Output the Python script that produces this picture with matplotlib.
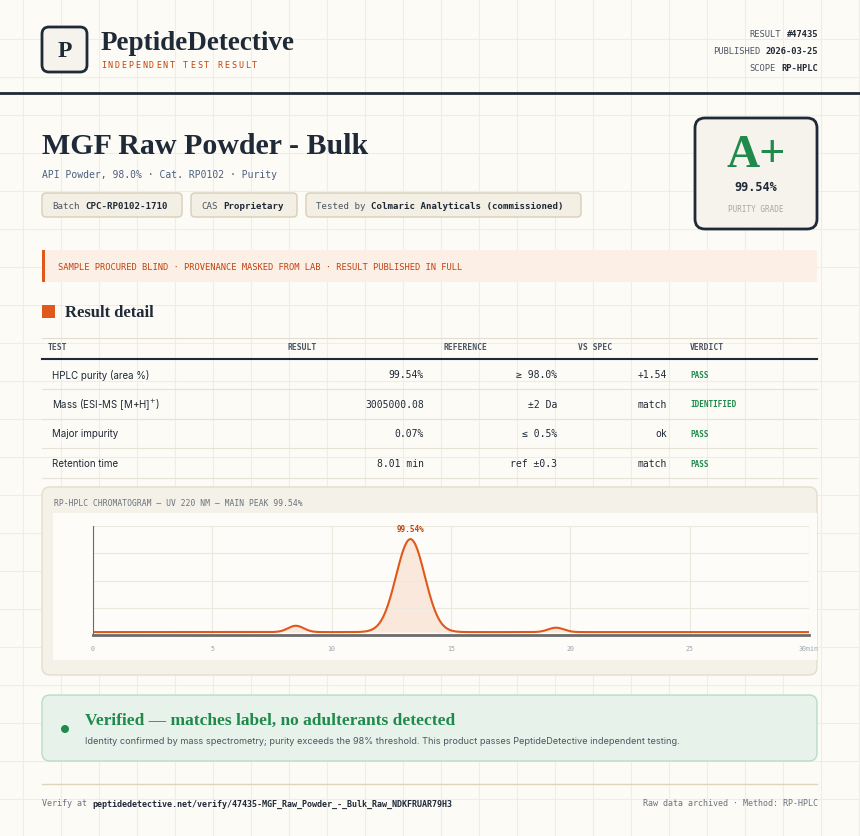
import matplotlib.pyplot as plt
from matplotlib.patches import FancyBboxPatch, Rectangle, Circle
import numpy as np

W, H = 860, 837
SERIF = "Liberation Serif"
MONO = "DejaVu Sans Mono"
SANS = "Inter"
INK = "#1f2937"
ORANGE = "#e0591a"
GREEN = "#1f8a4c"

# ---- data ----
meta_labels = ["RESULT", "PUBLISHED", "SCOPE"]
meta_values = ["#47435", "2026-03-25", "RP-HPLC"]
chip_labels = ["Batch", "CAS", "Tested by"]
chip_values = ["CPC-RP0102-1710", "Proprietary", "Colmaric Analyticals (commissioned)"]
columns = ["TEST", "RESULT", "REFERENCE", "VS SPEC", "VERDICT"]
tests = ["HPLC purity (area %)", "Mass (ESI-MS [M+H]$^{+}$)", "Major impurity", "Retention time"]
results = ["99.54%", "3005000.08", "0.07%", "8.01 min"]
references = ["≥ 98.0%", "±2 Da", "≤ 0.5%", "ref ±0.3"]
vs_spec = ["+1.54", "match", "ok", "match"]
verdicts = ["PASS", "IDENTIFIED", "PASS", "PASS"]

# chromatogram peak table
peak_rt = [8.5, 13.3, 19.4]
peak_height = [0.065, 0.955, 0.045]
peak_sigma = [0.33, 0.6, 0.33]
baseline = 0.03
x_ticks = [0, 5, 10, 15, 20, 25, 30]

fig = plt.figure(figsize=(W / 100, H / 100), dpi=100)
fig.patch.set_facecolor("#fcfbf6")
ax = fig.add_axes([0, 0, 1, 1])
ax.set_xlim(0, W)
ax.set_ylim(H, 0)
ax.axis("off")

# background grid
for gx in range(23, W, 38):
    ax.axvline(gx, color="#efede5", lw=0.8, zorder=0)
for gy in range(40, H, 38):
    ax.axhline(gy, color="#efede5", lw=0.8, zorder=0)


def rbox(x0, y0, x1, y1, fc, ec, lw=1, r=6, z=1):
    ax.add_patch(FancyBboxPatch((x0, y0), x1 - x0, y1 - y0,
                                boxstyle=f"round,pad=0,rounding_size={r}",
                                fc=fc, ec=ec, lw=lw, zorder=z))


def cw(size):
    return size * 100 / 72 * 0.602


# header
rbox(42, 28, 87, 73, "#f5f3ec", INK, lw=2, r=7, z=2)
ax.text(64.5, 51, "P", family=SERIF, weight="bold", size=17, color=INK,
        ha="center", va="center", zorder=3)
ax.text(101, 43, "PeptideDetective", family=SERIF, weight="bold", size=19.5,
        color=INK, va="center")
for k, ch in enumerate("INDEPENDENT TEST RESULT"):
    ax.text(101 + k * 6.85, 65, ch, family=MONO, size=6, color="#c2410c",
            va="center")
for i, (lab, val) in enumerate(zip(meta_labels, meta_values)):
    y = 34 + i * 17
    ax.text(818, y, val, family=MONO, size=6.3, weight="bold", color=INK,
            ha="right", va="center")
    ax.text(818 - (len(val) + 1) * cw(6.3), y, lab, family=MONO, size=6.3,
            color="#4b5563", ha="right", va="center")
ax.plot([0, W], [94, 94], color=INK, lw=2)

# title block
ax.text(42, 146, "MGF Raw Powder - Bulk", family=SERIF, weight="bold", size=21.5,
        color=INK, va="center")
ax.text(42, 175, "API Powder, 98.0% · Cat. RP0102 · Purity", family=MONO,
        size=7, color="#4b5f80", va="center")
chip_x = [(42, 182), (191, 297), (306, 581)]
for (x0, x1), lab, val in zip(chip_x, chip_labels, chip_values):
    rbox(x0, 194, x1, 218, "#f3efe4", "#d8cfb8", lw=1, r=4, z=2)
    ax.text(x0 + 10, 206, lab, family=MONO, size=6.6, color="#4b5563",
            va="center", zorder=3)
    ax.text(x0 + 10 + (len(lab) + 1) * cw(6.6), 206, val, family=MONO, size=6.6,
            weight="bold", color=INK, va="center", zorder=3)

# grade box
rbox(695, 119, 817, 230, "#f5f3ec", INK, lw=2, r=10, z=2)
ax.text(756, 156, "A+", family=SERIF, weight="bold", size=33, color=GREEN,
        ha="center", va="center", zorder=3)
ax.text(756, 187, "99.54%", family=MONO, weight="bold", size=8.5, color=INK,
        ha="center", va="center", zorder=3)
ax.text(756, 209, "PURITY GRADE", family=MONO, size=5.5, color="#a8a8a0",
        ha="center", va="center", zorder=3)

# banner
ax.add_patch(Rectangle((42, 251), 775, 32, fc="#fcefe6", ec="none", zorder=2))
ax.add_patch(Rectangle((42, 251), 3, 32, fc=ORANGE, ec="none", zorder=3))
ax.text(58, 267, "SAMPLE PROCURED BLIND · PROVENANCE MASKED FROM LAB · RESULT PUBLISHED IN FULL",
        family=MONO, size=6.3, color="#c2410c", va="center", zorder=3)

# result detail table
ax.add_patch(Rectangle((42, 306), 13, 13, fc=ORANGE, ec="none", zorder=2))
ax.text(65, 313, "Result detail", family=SERIF, weight="bold", size=12,
        color=INK, va="center")
ax.plot([42, 817], [339, 339], color="#e2ddd0", lw=0.8)
col_x = [48, 288, 443, 578, 690]
for cx, name in zip(col_x, columns):
    ax.text(cx, 347, name, family=MONO, weight="bold", size=5.8,
            color="#4b5563", va="center")
ax.plot([42, 817], [360, 360], color=INK, lw=1.5)
for i in range(len(tests)):
    y = 375 + i * 29.7
    ax.text(52, y, tests[i], family=SANS, size=7, color=INK, va="center")
    ax.text(424, y, results[i], family=MONO, size=7, color=INK, ha="right", va="center")
    ax.text(557, y, references[i], family=MONO, size=7, color=INK, ha="right", va="center")
    ax.text(667, y, vs_spec[i], family=MONO, size=7, color=INK, ha="right", va="center")
    ax.text(690, y, verdicts[i], family=MONO, size=5.5, weight="bold", color=GREEN,
            va="center")
    ax.plot([42, 817], [y + 15, y + 15], color="#e6e2d6", lw=0.8)

# chromatogram panel
rbox(42, 488, 817, 676, "#f4f1e8", "#e3ddcc", lw=1, r=8, z=1)
ax.text(54, 503, "RP-HPLC CHROMATOGRAM — UV 220 NM — MAIN PEAK 99.54%",
        family=MONO, size=5.8, color="#6b7280", va="center", zorder=2)
ax.add_patch(Rectangle((53, 514), 764, 147, fc="#fdfcf8", ec="none", zorder=2))

cax = fig.add_axes([93 / W, 1 - 636 / H, 716 / W, 109 / H])
cax.set_facecolor("none")
t = np.linspace(0, 30, 1201)
sig = np.full_like(t, baseline)
for rt, h, s in zip(peak_rt, peak_height, peak_sigma):
    sig += h * np.exp(-0.5 * ((t - rt) / s) ** 2)
cax.fill_between(t, baseline, sig, color="#f9e6d8", alpha=0.9, lw=0)
cax.plot(t, sig, color=ORANGE, lw=1.5)
cax.set_xlim(0, 30)
cax.set_ylim(0, 1.12)
cax.set_xticks(x_ticks)
cax.set_xticklabels([str(v) for v in x_ticks[:-1]] + ["30min"])
cax.set_yticks([0.28, 0.56, 0.84, 1.12])
cax.grid(True, color="#ebe8dd", lw=0.8)
cax.tick_params(length=0, labelleft=False, labelsize=4.8, colors="#9ca3af", pad=7)
for lab in cax.get_xticklabels():
    lab.set_family(MONO)
for sp in ["top", "right"]:
    cax.spines[sp].set_visible(False)
cax.spines["left"].set_color("#6b6b6b")
cax.spines["bottom"].set_color("#6b6b6b")
cax.spines["bottom"].set_linewidth(2)
main = int(np.argmax(peak_height))
cax.text(peak_rt[main], baseline + peak_height[main] + 0.06, "99.54%", family=MONO,
         size=5.5, weight="bold", color="#c2410c", ha="center", va="bottom")

# verified box
rbox(42, 696, 817, 762, "#e7f3ea", "#b9dcc4", lw=1, r=8, z=1)
ax.add_patch(Circle((65, 730), 4, fc=GREEN, ec="none", zorder=2))
ax.text(85, 721, "Verified — matches label, no adulterants detected", family=SERIF,
        weight="bold", size=12.5, color=GREEN, va="center", zorder=2)
ax.text(85, 742, "Identity confirmed by mass spectrometry; purity exceeds the 98% threshold. "
        "This product passes PeptideDetective independent testing.",
        family=SANS, size=6.6, color="#4b5563", va="center", zorder=2)

# footer
ax.plot([42, 817], [785, 785], color="#ddd5bf", lw=1)
ax.text(42, 804, "Verify at", family=MONO, size=6, color="#6b7280", va="center")
ax.text(42 + 10 * cw(6), 804, "peptidedetective.net/verify/47435-MGF_Raw_Powder_-_Bulk_Raw_NDKFRUAR79H3",
        family=MONO, size=6, weight="bold", color=INK, va="center")
ax.text(818, 804, "Raw data archived · Method: RP-HPLC", family=MONO, size=6,
        color="#6b7280", ha="right", va="center")

fig.savefig("out.png", dpi=100, facecolor=fig.get_facecolor())
